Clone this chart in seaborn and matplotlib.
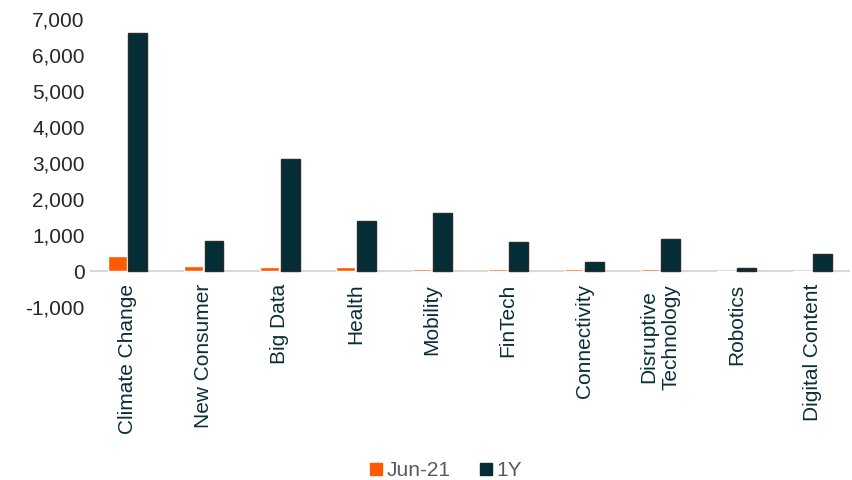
import pandas as pd
import matplotlib.pyplot as plt
import seaborn as sns
from matplotlib.lines import Line2D


categories = ['Climate Change', 'New Consumer', 'Big Data', 'Health', 'Mobility',
              'FinTech', 'Connectivity', 'Disruptive\nTechnology', 'Robotics', 'Digital Content']
jun21 = [430, 140, 120, 110, 70, 50, 50, 50, -15, -30]
one_year = [6600, 830, 3110, 1400, 1600, 820, 260, 880, 100, 470]
series = ['Jun-21', '1Y']
colors = ['#ff5a00', '#042d35']

df = pd.DataFrame({
    'Theme': categories * 2,
    'Series': ['Jun-21'] * len(categories) + ['1Y'] * len(categories),
    'Value': jun21 + one_year,
})

sns.set_style('white')
plt.rcParams['font.family'] = ['Liberation Sans', 'DejaVu Sans']

fig = plt.figure(figsize=(8.53, 4.8), dpi=100)
ax = fig.add_axes([0.105, 0.36, 0.892, 0.601])

ax.axhline(0, color='#d9d9d9', linewidth=1.5, zorder=0.5)
sns.barplot(data=df, x='Theme', y='Value', hue='Series', palette=colors, saturation=1,
            width=0.54, gap=0.08, legend=False, ax=ax, zorder=2)

for bar in ax.patches[len(categories):]:
    bar.set_edgecolor('#2b2b2b')
    bar.set_linewidth(1.0)

ax.set_ylim(-1000, 7000)
ax.set_yticks(range(-1000, 7001, 1000))
ax.set_yticklabels([f'{v:,}' for v in range(-1000, 7001, 1000)], fontsize=15, color='#262626')
ax.set_xlim(-0.5, len(categories) - 0.5)
ax.set_xlabel('')
ax.set_ylabel('')

for s in ['top', 'right', 'left', 'bottom']:
    ax.spines[s].set_visible(False)
ax.spines['bottom'].set_position(('data', 0))

ax.tick_params(axis='both', length=0)
ax.tick_params(axis='x', pad=9)
plt.setp(ax.get_xticklabels(), rotation=90, fontsize=15, color='#0a2f36',
         ha='center', va='top', multialignment='center')

handles = [Line2D([], [], marker='s', linestyle='', markersize=9, color=c) for c in colors]
fig.legend(handles, series, loc='center', bbox_to_anchor=(0.52, 0.02), ncol=2,
           frameon=False, fontsize=15, labelcolor='#595959', handletextpad=0.0,
           columnspacing=1.2, handlelength=1.0)

fig.savefig('out.png', dpi=100)
